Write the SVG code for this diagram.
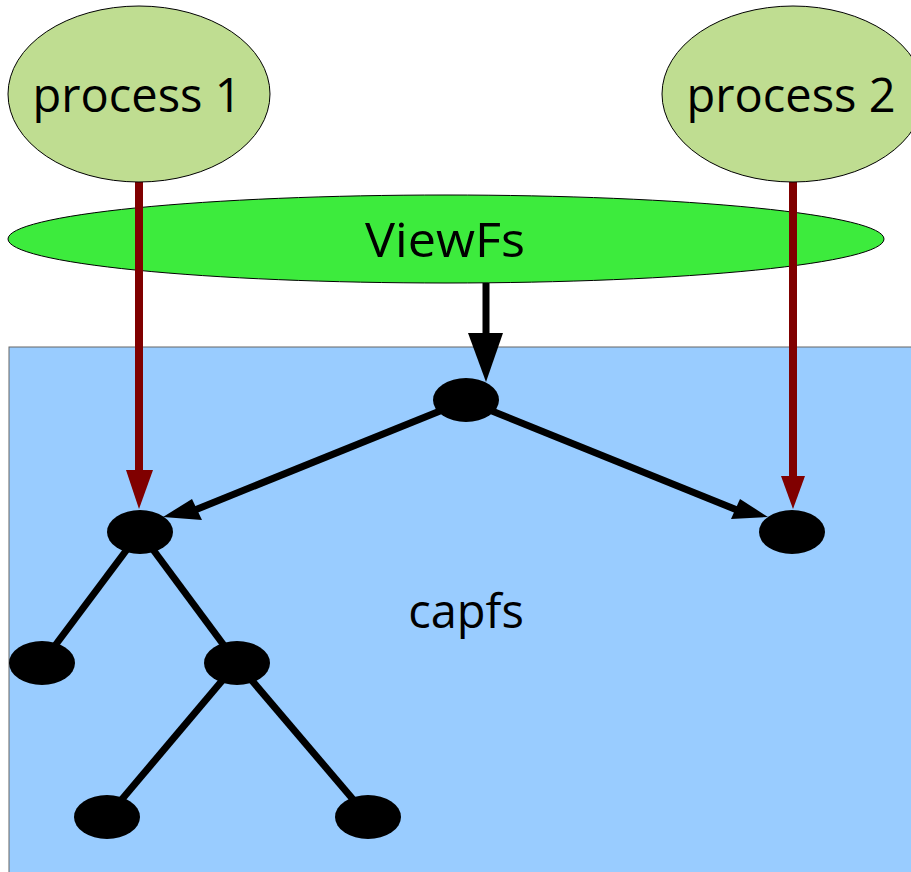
<svg xmlns="http://www.w3.org/2000/svg" width="911" height="872" viewBox="0 0 911 872">
  <style>
    .proc { fill: #bfdd91; stroke: #000; stroke-width: 1; }
    .view { fill: #3deb3d; stroke: #000; stroke-width: 1; }
    .fs { fill: #99ccff; stroke: #666; stroke-width: 1; }
    .dot { fill: #000; }
    .lbl { font-family: "Open Sans", "Noto Sans", sans-serif; font-size: 47px; fill: #000; text-anchor: middle; }
    .edge { stroke: #000; stroke-width: 7; fill: none; }
    .red { stroke: #800000; stroke-width: 8; fill: none; }
    .head { fill: #000; }
    .redhead { fill: #800000; }
  </style>

  <!-- capfs area -->
  <g id="capfs">
    <rect class="fs" x="9" y="347" width="910" height="535"/>
    <text class="lbl" x="466" y="628">capfs</text>
  </g>

  <!-- tree edges and mount links -->
  <g id="connectors">
    <line class="edge" x1="486" y1="283" x2="486" y2="336"/>
    <polygon class="head" points="468,333 503,333 486,382"/>
    <line class="edge" x1="445" y1="409" x2="190" y2="512"/>
    <polygon class="head" points="192,499 202,520 163,517"/>
    <line class="edge" x1="487" y1="409" x2="742" y2="512"/>
    <polygon class="head" points="740,499 731,519 768,517"/>
    <line class="edge" x1="140" y1="532" x2="42" y2="663"/>
    <line class="edge" x1="140" y1="532" x2="237" y2="663"/>
    <line class="edge" x1="237" y1="663" x2="107" y2="817"/>
    <line class="edge" x1="237" y1="663" x2="368" y2="817"/>
    <line class="red" x1="139" y1="182" x2="139" y2="472"/>
    <polygon class="redhead" points="126,470 153,470 139,509"/>
    <line class="red" x1="793" y1="182" x2="793" y2="478"/>
    <polygon class="redhead" points="781,476 805,476 793,509"/>
  </g>

  <g id="viewfs">
    <ellipse class="view" cx="446" cy="239" rx="438" ry="44"/>
    <text class="lbl" x="445" y="257" textLength="160" lengthAdjust="spacingAndGlyphs">ViewFs</text>
  </g>
  <!-- redraw the mount links over the ViewFs layer -->
  <g id="links-over">
    <line class="red" x1="139" y1="182" x2="139" y2="350"/>
    <line class="red" x1="793" y1="182" x2="793" y2="350"/>
  </g>

  <g id="process1">
    <ellipse class="proc" cx="139" cy="94" rx="131" ry="88"/>
    <text class="lbl" x="137" y="112">process 1</text>
  </g>
  <g id="process2">
    <ellipse class="proc" cx="793" cy="94" rx="131" ry="88"/>
    <text class="lbl" x="791" y="112">process 2</text>
  </g>

  <g id="root"><ellipse class="dot" cx="466" cy="400" rx="33" ry="22"/></g>
  <g id="n-left"><ellipse class="dot" cx="140" cy="532" rx="33" ry="22"/></g>
  <g id="n-right"><ellipse class="dot" cx="792" cy="532" rx="33" ry="22"/></g>
  <g id="n-leaf1"><ellipse class="dot" cx="42" cy="663" rx="33" ry="22"/></g>
  <g id="n-mid"><ellipse class="dot" cx="237" cy="663" rx="33" ry="22"/></g>
  <g id="n-leaf2"><ellipse class="dot" cx="107" cy="817" rx="33" ry="22"/></g>
  <g id="n-leaf3"><ellipse class="dot" cx="368" cy="817" rx="33" ry="22"/></g>
</svg>
